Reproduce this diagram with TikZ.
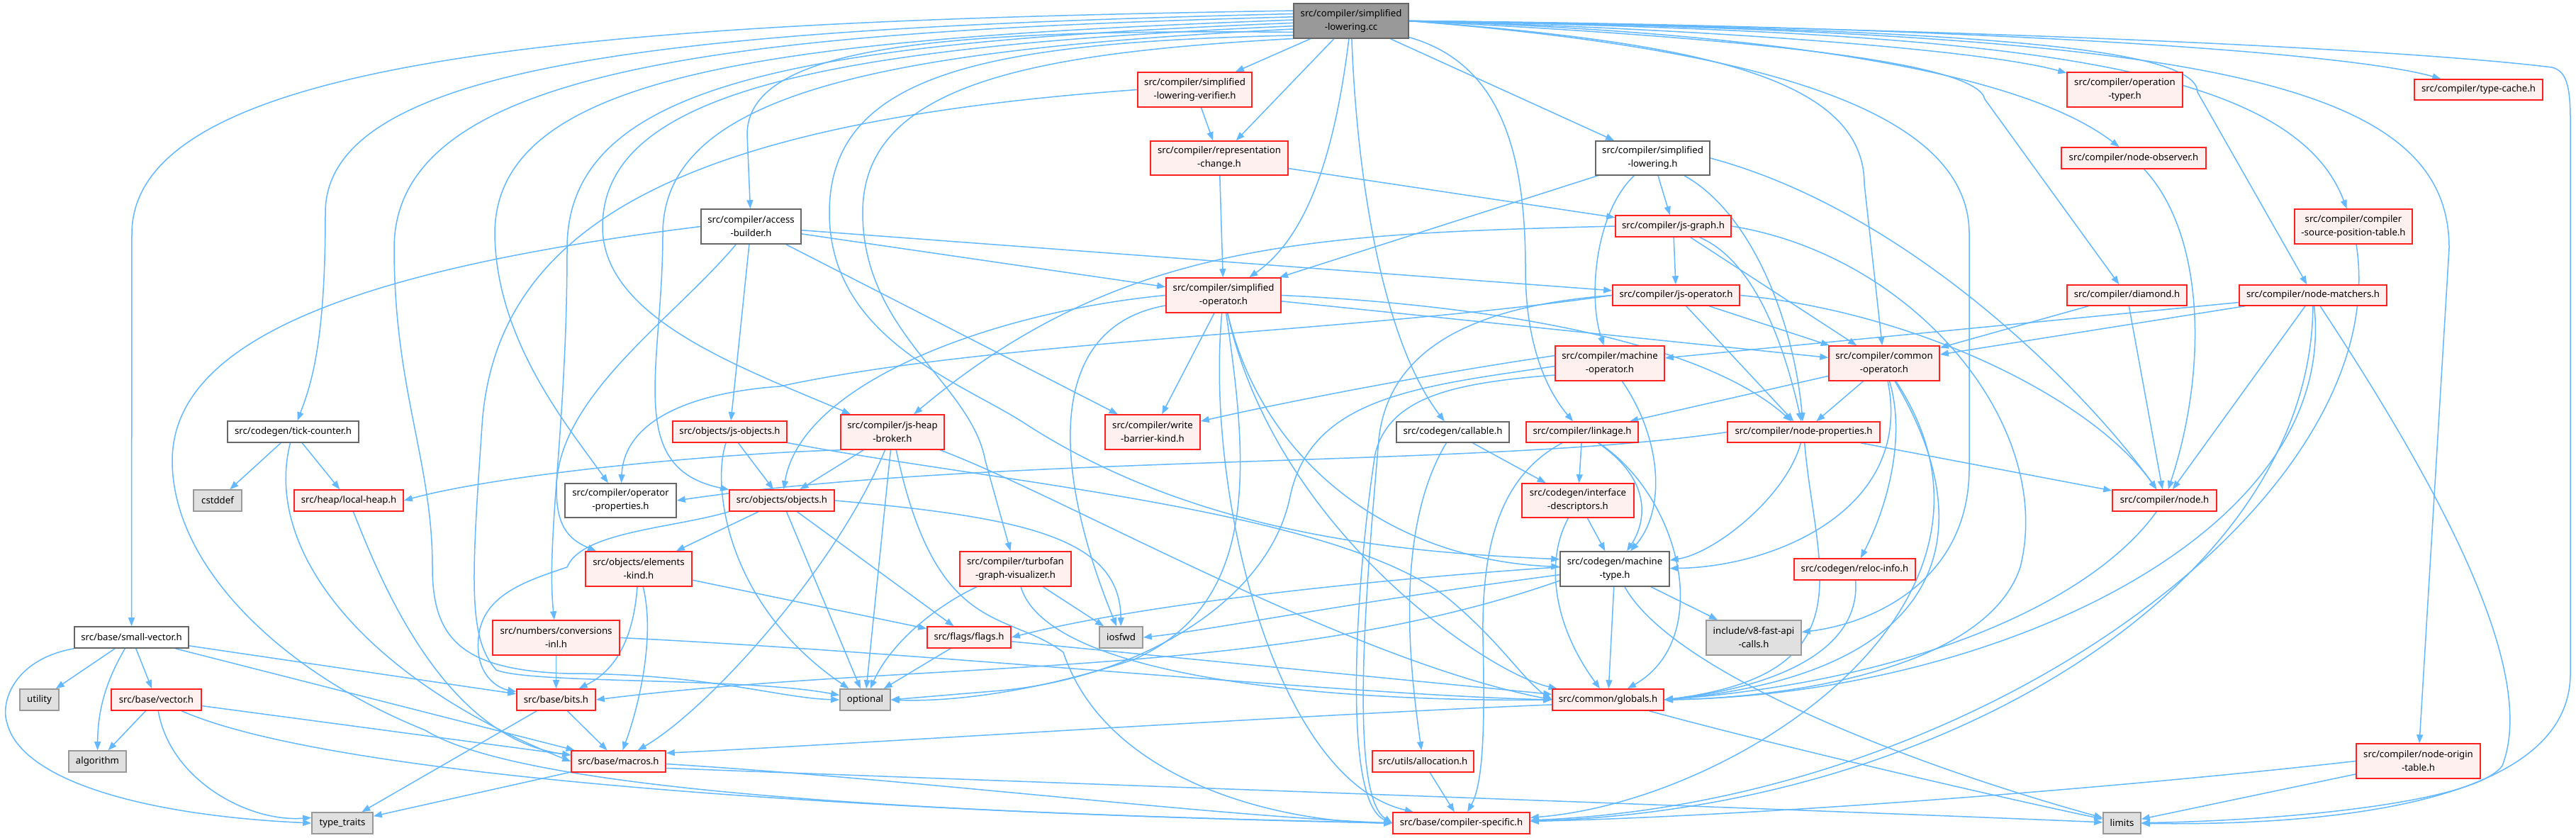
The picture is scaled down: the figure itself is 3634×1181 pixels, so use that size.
\documentclass[tikz,border=0pt]{standalone}
\usepackage{fontspec}
\setmainfont{Noto Sans}
\usetikzlibrary{arrows.meta}
\pgfdeclarelayer{bg}
\pgfsetlayers{bg,main}
\definecolor{eb}{HTML}{63B8FF}
\definecolor{rb}{HTML}{FF2020}
\definecolor{rf}{HTML}{FFF0F0}
\definecolor{gb}{HTML}{999999}
\definecolor{gf}{HTML}{E0E0E0}
\definecolor{wb}{HTML}{666666}
\tikzset{
 nb/.style={draw, line width=1.6pt, inner sep=0pt, align=center, font=\fontsize{13.2}{19}\selectfont, text=black},
 rn/.style={nb, draw=rb, fill=rf},
 wn/.style={nb, draw=wb, fill=white},
 gn/.style={nb, draw=gb, fill=gf},
 mn/.style={nb, draw=wb, fill=gb},
 sz/.style 2 args={minimum width=#1pt, minimum height=#2pt},
 e/.style={draw=eb, line width=1.5pt, -{Triangle[length=12pt,width=9pt]}},
}
\begin{document}
\begin{tikzpicture}[x=1pt,y=-1pt]
\useasboundingbox (0,0) rectangle (3634,1181);
% ---------------- nodes ----------------
\node[mn,sz={162}{49}] (M) at (1906,29.5) {src/compiler/simplified\\-lowering.cc};
\node[rn,sz={161}{49}] (VER) at (1685.5,126.5) {src/compiler/simplified\\-lowering-verifier.h};
\node[rn,sz={163}{49}] (OT) at (2997.5,126.5) {src/compiler/operation\\-typer.h};
\node[rn,sz={181}{29}] (TC) at (3496.5,126.5) {src/compiler/type-cache.h};
\node[rn,sz={194}{48}] (RC) at (1720,223) {src/compiler/representation\\-change.h};
\node[wn,sz={161}{48}] (SLH) at (2331.5,223) {src/compiler/simplified\\-lowering.h};
\node[rn,sz={204}{30}] (NOBS) at (3010,223) {src/compiler/node-observer.h};
\node[wn,sz={141}{49}] (AB) at (1059.5,319.5) {src/compiler/access\\-builder.h};
\node[rn,sz={163}{30}] (JSG) at (2360.5,319) {src/compiler/js-graph.h};
\node[rn,sz={166}{49}] (CSPT) at (3320,319.5) {src/compiler/compiler\\-source-position-table.h};
\node[rn,sz={162}{49}] (SO) at (1726,416.5) {src/compiler/simplified\\-operator.h};
\node[rn,sz={179}{29}] (JSO) at (2364.5,416.5) {src/compiler/js-operator.h};
\node[rn,sz={169}{29}] (DIA) at (3000.5,416.5) {src/compiler/diamond.h};
\node[rn,sz={208}{29}] (NM) at (3263,416.5) {src/compiler/node-matchers.h};
\node[rn,sz={154}{49}] (MO) at (2271,512.5) {src/compiler/machine\\-operator.h};
\node[rn,sz={156}{49}] (CO) at (2658,512.5) {src/compiler/common\\-operator.h};
\node[wn,sz={185}{30}] (TCK) at (413.5,609) {src/codegen/tick-counter.h};
\node[rn,sz={161}{30}] (JSOBJ) at (1029.5,609) {src/objects/js-objects.h};
\node[rn,sz={146}{49}] (JHB) at (1259,609.5) {src/compiler/js-heap\\-broker.h};
\node[rn,sz={134}{49}] (WBK) at (1626,609.5) {src/compiler/write\\-barrier-kind.h};
\node[wn,sz={159}{29}] (CALL) at (2049.5,609.5) {src/codegen/callable.h};
\node[rn,sz={158}{29}] (LINK) at (2232,609.5) {src/compiler/linkage.h};
\node[rn,sz={215}{29}] (NP) at (2544.5,609.5) {src/compiler/node-properties.h};
\node[gn,sz={68}{30}] (CSTD) at (307,706) {cstddef};
\node[rn,sz={154}{30}] (LH) at (492,706) {src/heap/local-heap.h};
\node[wn,sz={157}{48}] (OPP) at (875.5,706) {src/compiler/operator\\-properties.h};
\node[rn,sz={148}{30}] (OBJ) at (1103,706) {src/objects/objects.h};
\node[rn,sz={158}{48}] (ID) at (2226,706) {src/codegen/interface\\-descriptors.h};
\node[rn,sz={147}{30}] (NODE) at (3053.5,706) {src/compiler/node.h};
\node[rn,sz={150}{49}] (EK) at (901,802.5) {src/objects/elements\\-kind.h};
\node[rn,sz={157}{49}] (TGV) at (1432.5,802.5) {src/compiler/turbofan\\-graph-visualizer.h};
\node[wn,sz={154}{49}] (MT) at (2278,802.5) {src/codegen/machine\\-type.h};
\node[rn,sz={171}{30}] (RI) at (2616.5,803) {src/codegen/reloc-info.h};
\node[wn,sz={161}{30}] (SV) at (185.5,899) {src/base/small-vector.h};
\node[rn,sz={179}{49}] (NCI) at (784.5,899.5) {src/numbers/conversions\\-inl.h};
\node[rn,sz={118}{30}] (FL) at (1367,899) {src/flags/flags.h};
\node[gn,sz={61}{30}] (IOS) at (1581.5,899) {iosfwd};
\node[gn,sz={134}{49}] (V8F) at (2474,899.5) {include/v8-fast-api\\-calls.h};
\node[gn,sz={55}{30}] (UT) at (55.5,987) {utility};
\node[rn,sz={127}{30}] (VEC) at (220.5,987) {src/base/vector.h};
\node[rn,sz={111}{30}] (BITS) at (784.5,987) {src/base/bits.h};
\node[gn,sz={71}{30}] (OPTL) at (1220.5,987) {optional};
\node[rn,sz={157}{30}] (GLB) at (2268.5,987) {src/common/globals.h};
\node[gn,sz={81}{30}] (ALG) at (137.5,1074) {algorithm};
\node[rn,sz={133}{30}] (MAC) at (872.5,1074) {src/base/macros.h};
\node[rn,sz={143}{30}] (ALLOC) at (2007.5,1074) {src/utils/allocation.h};
\node[rn,sz={175}{49}] (NOT) at (3411.5,1073.5) {src/compiler/node-origin\\-table.h};
\node[gn,sz={86}{30}] (TT) at (483,1161) {type\_traits};
\node[rn,sz={193}{30}] (CS) at (2061.5,1161) {src/base/compiler-specific.h};
\node[gn,sz={53}{30}] (LIM) at (2993.5,1161) {limits};
% ---------------- edges ----------------
\begin{pgfonlayer}{bg}
\fill[white] (0,0) rectangle (3634,1181);
% main
\draw[e] (M) -- (VER);
\draw[e] (M) -- (RC);
\draw[e] (M) .. controls (1885,200) and (1850,330) .. (SO);
\draw[e] (M.191) .. controls (1300,40) and (1054,70) .. (1054,190) -- (AB);
\draw[e] (M.173) .. controls (1000,40) and (459,80) .. (459,300) .. controls (459,480) and (440,540) .. (TCK);
\draw[e] (M.170) .. controls (900,30) and (186,70) .. (186,330) -- (SV);
\draw[e] (M.176) .. controls (1050,45) and (556,90) .. (556,350) .. controls (556,550) and (610,650) .. (610,800) .. controls (610,900) and (650,945) .. (800,950) .. controls (1000,950) and (1100,985) .. (OPTL.west);
\draw[e] (M.179) .. controls (1100,55) and (698,100) .. (698,330) .. controls (700,480) and (800,600) .. (OPP);
\draw[e] (M.182) .. controls (1150,60) and (800,110) .. (800,350) .. controls (800,600) and (770,760) .. (NCI);
\draw[e] (M.185) .. controls (1200,65) and (850,120) .. (850,320) .. controls (850,450) and (1050,520) .. (JHB);
\draw[e] (M.188) .. controls (1250,70) and (935,130) .. (935,330) .. controls (935,520) and (880,660) .. (OBJ);
\draw[e] (M.194) .. controls (1400,60) and (1170,100) .. (1170,300) .. controls (1170,480) and (1360,540) .. (1450,600) .. controls (1700,760) and (2000,780) .. (MT.170);
\draw[e] (M.197) .. controls (1450,75) and (1217,120) .. (1217,300) .. controls (1217,470) and (1370,540) .. (1390,650) -- (TGV);
\draw[e] (M) -- (SLH);
\draw[e] (M) .. controls (1914,250) and (1950,480) .. (CALL);
\draw[e] (M) .. controls (2120,90) and (2152,220) .. (2152,380) .. controls (2152,500) and (2190,560) .. (LINK);
\draw[e] (M.east) .. controls (2400,60) and (2630,110) .. (2630,260) -- (CO);
\draw[e] (M.east) .. controls (2400,40) and (2800,70) .. (OT);
\draw[e] (M.east) .. controls (2700,35) and (3300,70) .. (TC);
\draw[e] (M.east) .. controls (2500,45) and (2850,100) .. (NOBS);
\draw[e] (M.east) .. controls (2500,55) and (2790,90) .. (2800,140) -- (DIA);
\draw[e] (M.east) .. controls (2700,40) and (3100,60) .. (3100,130) -- (NM);
\draw[e] (M.east) .. controls (2800,45) and (3230,80) .. (CSPT);
\draw[e] (M.east) .. controls (3100,45) and (3455,110) .. (3455,350) -- (NOT);
\draw[e] (M.east) .. controls (2800,40) and (3400,70) .. (3600,95) .. controls (3620,100) and (3626,120) .. (3626,170) -- (3626,950) .. controls (3626,1130) and (3300,1165) .. (LIM);
\draw[e] (M.east) .. controls (2500,70) and (2778,160) .. (2778,330) -- (2778,660) .. controls (2778,820) and (2640,880) .. (V8F);
% verifier, representation change, lowering.h
\draw[e] (VER) -- (RC);
\draw[e] (VER.west) .. controls (1000,170) and (700,300) .. (680,600) .. controls (665,820) and (660,900) .. (700,945) .. controls (750,965) and (1050,955) .. (OPTL.170);
\draw[e] (RC) -- (JSG);
\draw[e] (RC) -- (SO);
\draw[e] (SLH) -- (SO);
\draw[e] (SLH) .. controls (2250,300) and (2240,420) .. (MO);
\draw[e] (SLH) -- (JSG);
\draw[e] (SLH) .. controls (2470,300) and (2530,450) .. (NP);
\draw[e] (SLH.east) .. controls (2700,300) and (2950,560) .. (NODE);
% access builder
\draw[e] (AB.west) .. controls (500,380) and (243,480) .. (243,650) .. controls (243,800) and (400,950) .. (600,1030) .. controls (760,1130) and (1500,1150) .. (CS.west);
\draw[e] (AB) .. controls (950,450) and (785,560) .. (785,690) .. controls (785,740) and (800,760) .. (EK);
\draw[e] (AB) -- (JSOBJ);
\draw[e] (AB) -- (WBK);
\draw[e] (AB) -- (JSO);
\draw[e] (AB) -- (SO);
% js-graph
\draw[e] (JSG.west) .. controls (1850,330) and (1580,340) .. (JHB);
\draw[e] (JSG) -- (JSO);
\draw[e] (JSG) -- (CO);
\draw[e] (JSG) .. controls (2480,370) and (2520,500) .. (NP);
\draw[e] (JSG.east) .. controls (2700,360) and (2900,600) .. (2850,800) .. controls (2800,950) and (2500,985) .. (GLB.east);
% js-operator
\draw[e] (JSO.west) .. controls (2100,430) and (1960,480) .. (1945,620) .. controls (1930,800) and (1900,1120) .. (CS.west);
\draw[e] (JSO) -- (CO);
\draw[e] (JSO) -- (NP);
\draw[e] (JSO.east) .. controls (2700,440) and (2950,560) .. (NODE);
\draw[e] (JSO.west) .. controls (1900,470) and (1400,480) .. (1100,545) .. controls (960,555) and (880,600) .. (OPP);
% simplified-operator
\draw[e] (SO) .. controls (1480,460) and (1480,650) .. (IOS);
\draw[e] (SO) .. controls (1760,650) and (1780,850) .. (1600,930) .. controls (1450,980) and (1330,990) .. (OPTL.east);
\draw[e] (SO) .. controls (1700,700) and (1800,1100) .. (CS);
\draw[e] (SO) .. controls (1780,650) and (1960,790) .. (MT);
\draw[e] (SO) .. controls (1800,750) and (2100,950) .. (GLB);
\draw[e] (SO) -- (CO);
\draw[e] (SO.east) .. controls (2100,430) and (2400,480) .. (NP);
\draw[e] (SO) -- (WBK);
\draw[e] (SO.west) .. controls (1400,440) and (1130,540) .. (OBJ);
% machine-operator
\draw[e] (MO.183) .. controls (2000,545) and (1850,560) .. (1820,700) .. controls (1790,850) and (1600,960) .. (1400,975) -- (OPTL.east);
\draw[e] (MO.172) .. controls (2000,530) and (1800,570) .. (WBK);
\draw[e] (MO) .. controls (2345,620) and (2350,720) .. (MT);
\draw[e] (MO.192) .. controls (2050,540) and (1960,560) .. (1940,640) .. controls (1915,800) and (1890,1130) .. (CS.west);
% common-operator
\draw[e] (CO) -- (LINK);
\draw[e] (CO) -- (NP);
\draw[e] (CO) .. controls (2690,620) and (2660,720) .. (RI);
\draw[e] (CO) .. controls (2700,720) and (2500,800) .. (MT);
\draw[e] (CO) .. controls (2800,750) and (2750,950) .. (GLB.east);
\draw[e] (CO) .. controls (2880,850) and (2450,1130) .. (CS);
% node-matchers, diamond, observer, tables
\draw[e] (NM) -- (CO);
\draw[e] (NM) -- (MO);
\draw[e] (NM) -- (NODE);
\draw[e] (NM) .. controls (3300,760) and (2800,980) .. (GLB.east);
\draw[e] (NM) .. controls (3260,820) and (2750,1140) .. (CS);
\draw[e] (NM) .. controls (3450,700) and (3580,950) .. (3530,1080) .. controls (3490,1135) and (3200,1158) .. (LIM);
\draw[e] (DIA) -- (CO);
\draw[e] (DIA) -- (NODE);
\draw[e] (NOBS) .. controls (3110,330) and (3115,520) .. (NODE);
\draw[e] (CSPT) .. controls (3380,700) and (2800,1130) .. (CS);
\draw[e] (NOT) -- (LIM);
\draw[e] (NOT.west) .. controls (3000,1110) and (2500,1150) .. (CS);
\draw[e] (NODE) .. controls (2950,850) and (2700,960) .. (GLB.east);
\draw[e] (RI) .. controls (2625,920) and (2500,970) .. (GLB.east);
% node-properties
\draw[e] (NP.west) .. controls (2100,660) and (1400,640) .. (OPP.east);
\draw[e] (NP) -- (NODE);
\draw[e] (NP) .. controls (2520,700) and (2420,780) .. (MT);
\draw[e] (NP) .. controls (2560,800) and (2640,950) .. (GLB.east);
% linkage, interface descriptors, callable
\draw[e] (LINK) -- (ID);
\draw[e] (LINK) .. controls (2335,680) and (2320,740) .. (MT);
\draw[e] (LINK) .. controls (2370,700) and (2420,900) .. (GLB);
\draw[e] (LINK) .. controls (2120,670) and (2090,760) .. (2092,900) .. controls (2094,1000) and (2095,1100) .. (CS);
\draw[e] (ID) -- (MT);
\draw[e] (ID) .. controls (2180,790) and (2190,880) .. (GLB);
\draw[e] (CALL) -- (ID);
\draw[e] (CALL) .. controls (1965,750) and (1990,950) .. (ALLOC);
% machine-type
\draw[e] (MT.178) .. controls (1900,820) and (1600,855) .. (FL.east);
\draw[e] (MT.186) .. controls (1900,850) and (1700,890) .. (IOS.east);
\draw[e] (MT.192) .. controls (1800,960) and (1300,930) .. (BITS.east);
\draw[e] (MT) -- (GLB);
\draw[e] (MT) -- (V8F);
\draw[e] (MT) .. controls (2360,950) and (2700,1080) .. (LIM);
% lower left
\draw[e] (BITS) -- (MAC);
\draw[e] (BITS) -- (TT);
\draw[e] (NCI) -- (BITS);
\draw[e] (NCI.east) .. controls (1300,920) and (1900,980) .. (GLB.west);
\draw[e] (EK) -- (FL);
\draw[e] (EK) .. controls (895,880) and (880,940) .. (BITS);
\draw[e] (EK) .. controls (925,900) and (900,1000) .. (MAC);
\draw[e] (OBJ) -- (EK);
\draw[e] (OBJ.south west) .. controls (950,745) and (820,750) .. (800,800) .. controls (740,820) and (680,840) .. (675,900) .. controls (670,950) and (700,970) .. (BITS);
\draw[e] (OBJ) -- (FL);
\draw[e] (OBJ) -- (OPTL);
\draw[e] (OBJ.east) .. controls (1450,730) and (1580,760) .. (IOS);
\draw[e] (JSOBJ) -- (OBJ);
\draw[e] (JSOBJ) .. controls (1005,680) and (1020,850) .. (OPTL);
\draw[e] (JSOBJ) .. controls (1400,680) and (1900,720) .. (2050,850) .. controls (2120,910) and (2150,960) .. (GLB.west);
\draw[e] (JHB.south west) .. controls (1000,640) and (700,670) .. (LH.east);
\draw[e] (JHB) -- (OBJ);
\draw[e] (JHB) -- (OPTL);
\draw[e] (JHB) .. controls (1180,800) and (1000,1000) .. (MAC);
\draw[e] (JHB) .. controls (1500,700) and (1900,930) .. (GLB.west);
\draw[e] (JHB) .. controls (1320,900) and (1420,860) .. (1500,920) .. controls (1560,1100) and (1800,1160) .. (CS.west);
\draw[e] (LH) .. controls (530,800) and (620,1040) .. (MAC);
\draw[e] (TCK) -- (CSTD);
\draw[e] (TCK) -- (LH);
\draw[e] (TCK) .. controls (370,780) and (520,960) .. (MAC.west);
\draw[e] (SV.south west) .. controls (20,930) and (0,990) .. (10,1020) .. controls (30,1100) and (200,1150) .. (TT.west);
\draw[e] (SV) -- (UT);
\draw[e] (SV) .. controls (150,960) and (138,1000) .. (ALG);
\draw[e] (SV) -- (VEC);
\draw[e] (SV) -- (MAC);
\draw[e] (SV) -- (BITS);
\draw[e] (VEC) -- (ALG);
\draw[e] (VEC) .. controls (240,1100) and (350,1160) .. (TT.170);
\draw[e] (VEC) -- (MAC);
\draw[e] (VEC) .. controls (500,1110) and (1400,1150) .. (CS.west);
\draw[e] (MAC) -- (TT);
\draw[e] (MAC.357) .. controls (1300,1100) and (1700,1150) .. (CS.west);
\draw[e] (MAC.352) .. controls (1500,1105) and (2500,1140) .. (LIM);
\draw[e] (GLB.185) .. controls (1800,1010) and (1200,1050) .. (MAC.10);
\draw[e] (GLB) .. controls (2500,1050) and (2800,1120) .. (LIM);
\draw[e] (ALLOC) -- (CS);
\draw[e] (FL) -- (OPTL);
\draw[e] (FL) -- (GLB);
\draw[e] (TGV) .. controls (1330,850) and (1260,900) .. (OPTL);
\draw[e] (TGV) -- (IOS);
\draw[e] (TGV) .. controls (1480,960) and (1900,990) .. (GLB.west);
\end{pgfonlayer}
\end{tikzpicture}
\end{document}
